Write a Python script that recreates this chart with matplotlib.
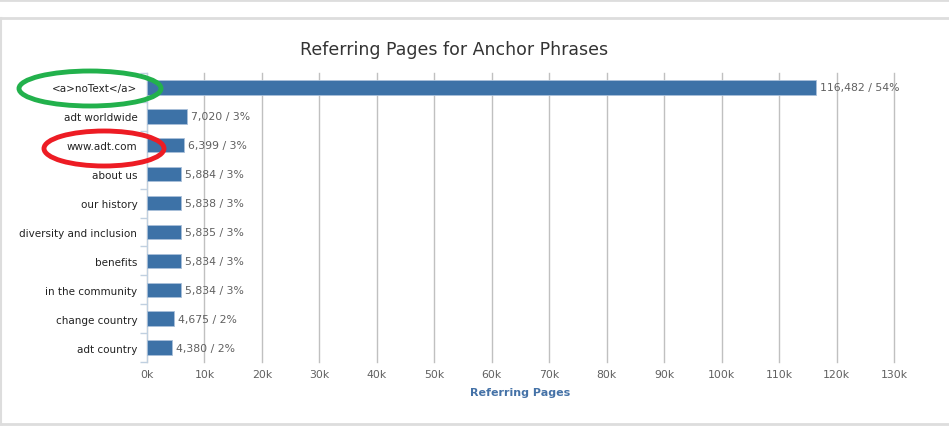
import matplotlib.pyplot as plt
from matplotlib.patches import Ellipse

# anchor phrases and how many referring pages use each one
phrases = ['<a>noText</a>', 'adt worldwide', 'www.adt.com', 'about us', 'our history',
           'diversity and inclusion', 'benefits', 'in the community', 'change country', 'adt country']
pages = [116482, 7020, 6399, 5884, 5838, 5835, 5834, 5834, 4675, 4380]
shares = [54, 3, 3, 3, 3, 3, 3, 3, 2, 2]
xticks = list(range(0, 130001, 10000))

W, H = 949, 427
fig = plt.figure(figsize=(W / 100, H / 100), dpi=100)

# page frame drawn in pixel coords on a full-figure overlay
bg = fig.add_axes([0, 0, 1, 1], zorder=0)
bg.set_xlim(0, W)
bg.set_ylim(H, 0)
bg.axis('off')
bg.plot([0, W], [1, 1], color='#dddddd', lw=2)
bg.plot([0, W], [18.5, 18.5], color='#dddddd', lw=2)
bg.plot([0, W], [425, 425], color='#dddddd', lw=2)
bg.plot([1, 1], [18.5, 425], color='#dddddd', lw=1.5)

ax = fig.add_axes([147 / W, 1 - 363 / H, (894 - 147) / W, (363 - 74) / H], zorder=1)
ax.patch.set_alpha(0)
y = list(range(len(phrases)))
ax.barh(y, pages, height=0.5, color='#3d72a7', edgecolor='#a9c0da', linewidth=0.6, zorder=3)
ax.set_ylim(len(phrases) - 0.5, -0.5)
ax.set_xlim(0, 130000)

for i in range(len(phrases)):
    ax.text(pages[i] + 700, i, '{:,} / {}%'.format(pages[i], shares[i]),
            va='center', ha='left', fontsize=7.8, color='#606060', zorder=4)

ax.set_xticks(xticks)
ax.set_xticklabels(['{}k'.format(v // 1000) for v in xticks], fontsize=7.8, color='#606060')
ax.tick_params(axis='x', length=0, pad=5)
ax.grid(axis='x', color='#c0c0c0', lw=1, zorder=0)
for gl in ax.get_xgridlines():
    gl.set_clip_on(False)
ax.set_axisbelow(True)

ax.set_yticks(y)
ax.set_yticklabels(phrases, fontsize=7.5, color='#222222')
ax.tick_params(axis='y', length=0, pad=7)
ax.set_yticks([i + 0.5 for i in range(-1, len(phrases))], minor=True)
ax.tick_params(axis='y', which='minor', length=5, color='#c0d0e0', width=1)

for s in ['top', 'right', 'bottom']:
    ax.spines[s].set_visible(False)
ax.spines['left'].set_color('#c0d0e0')

ax.set_xlabel('Referring Pages', fontsize=8, fontweight='bold', color='#4572a7', labelpad=6)

fig.text(454 / W, 1 - 50 / H, 'Referring Pages for Anchor Phrases', ha='center', va='center',
         fontsize=12.5, color='#333333')

# hand-drawn circles around two of the labels
bg2 = fig.add_axes([0, 0, 1, 1], zorder=5)
bg2.set_xlim(0, W)
bg2.set_ylim(H, 0)
bg2.axis('off')
bg2.add_patch(Ellipse((90, 89.5), 142, 35, fill=False, edgecolor='#22b14c', lw=3.5))
bg2.add_patch(Ellipse((104, 149.5), 120, 35, fill=False, edgecolor='#ed1c24', lw=3.5))

fig.savefig('out.png', dpi=100)
